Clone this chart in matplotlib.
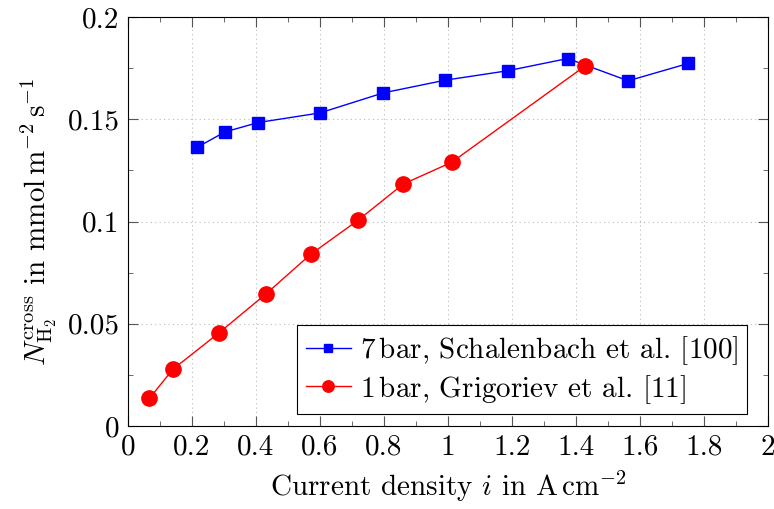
import matplotlib
matplotlib.use("Agg")
import matplotlib.pyplot as plt
from matplotlib.ticker import MultipleLocator

plt.rcParams['font.family'] = 'serif'
plt.rcParams['font.serif'] = ['cmr10']
plt.rcParams['mathtext.fontset'] = 'cm'
plt.rcParams['axes.formatter.use_mathtext'] = True

# 7 bar, Schalenbach et al.
i_7bar = [0.215, 0.303, 0.407, 0.600, 0.798, 0.991, 1.186, 1.374, 1.563, 1.751]
n_7bar = [0.1362, 0.1438, 0.1484, 0.1531, 0.1629, 0.1691, 0.1737, 0.1797, 0.1688, 0.1773]

# 1 bar, Grigoriev et al.
i_1bar = [0.067, 0.140, 0.284, 0.432, 0.572, 0.718, 0.860, 1.012, 1.428]
n_1bar = [0.0135, 0.0277, 0.0455, 0.0647, 0.0841, 0.1005, 0.1183, 0.1290, 0.1760]

xticks = [0, 0.2, 0.4, 0.6, 0.8, 1, 1.2, 1.4, 1.6, 1.8, 2]
xticklabels = ["0", "0.2", "0.4", "0.6", "0.8", "1", "1.2", "1.4", "1.6", "1.8", "2"]
yticks = [0, 0.05, 0.1, 0.15, 0.2]
yticklabels = ["0", "0.05", "0.1", "0.15", "0.2"]

fs = 21

fig = plt.figure(figsize=(7.74, 5.09), dpi=100)
ax = fig.add_axes([128/774, 1-426/509, 640/774, 409/509])

ax.plot(i_7bar, n_7bar, color='blue', marker='s', ms=8.5, lw=1,
        label=r'7$\,$bar, Schalenbach et al. [100]')
ax.plot(i_1bar, n_1bar, color='red', marker='o', ms=11, lw=1,
        label=r'1$\,$bar, Grigoriev et al. [11]')

ax.set_xlim(0, 2)
ax.set_ylim(0, 0.2)
ax.set_xticks(xticks)
ax.set_xticklabels(xticklabels, fontsize=fs)
ax.set_yticks(yticks)
ax.set_yticklabels(yticklabels, fontsize=fs)
ax.xaxis.set_minor_locator(MultipleLocator(0.1))
ax.yaxis.set_minor_locator(MultipleLocator(0.025))
ax.tick_params(which='both', direction='in', top=True, right=True, color='#555555')
ax.tick_params(which='major', length=7, pad=6)
ax.tick_params(which='minor', length=3.5)
ax.grid(True, which='major', linestyle=(0, (1, 3)), color='#bbbbbb', lw=0.8)

ax.set_xlabel(r'Current density $i$ in $\mathrm{A\,cm^{-2}}$', fontsize=fs, labelpad=6)
ax.set_ylabel(r'$N_{\mathrm{H_2}}^{\mathrm{cross}}$ in $\mathrm{mmol\,m^{-2}\,s^{-1}}$', fontsize=fs, labelpad=6)

leg = ax.legend(loc='lower right', fontsize=fs, fancybox=False, edgecolor='black',
                framealpha=1, borderaxespad=0.4, handlelength=1.55, borderpad=0.3,
                labelspacing=0.2, handletextpad=0.3, markerscale=0.75,
                bbox_to_anchor=(0.985, 0.0))
leg.get_frame().set_linewidth(0.8)

fig.savefig('out.png', dpi=100)
